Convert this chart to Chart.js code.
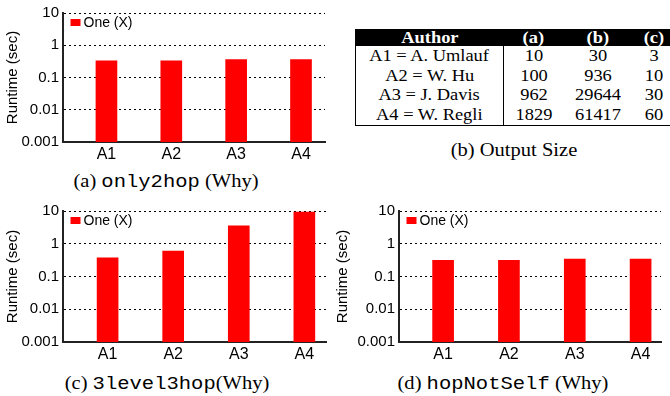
<!DOCTYPE html>
<html>
<head>
<meta charset="utf-8">
<script src="https://cdn.jsdelivr.net/npm/chart.js@4.4.0/dist/chart.umd.min.js"></script>
<style>
  body { margin: 0; width: 670px; height: 396px; overflow: hidden; background: #fff; position: relative; }
  canvas { position: absolute; }
  .cap { position: absolute; font-family: "Liberation Serif", serif; font-size: 18px; line-height: 20px;
         white-space: nowrap; transform: translateX(-50%) scaleX(1.14); color: #000; }
  .cap span { font-family: "Liberation Mono", monospace; }
  #tbl { position: absolute; left: 355px; top: 29px; width: 320px; border-collapse: collapse; table-layout: fixed;
         font-family: "Liberation Serif", serif; font-size: 16px; color: #000;
         border-left: 1.5px solid #000; border-bottom: 1.5px solid #000; }
  #tbl th { background: #000; color: #fff; font-weight: bold; height: 17px; line-height: 17px; padding: 0; text-align: center; }
  #tbl td { height: 19.7px; line-height: 19.7px; padding: 0; text-align: center; }
  #tbl td:first-child { border-right: 1.5px solid #000; }
  #tbl .sx { display: inline-block; transform: scaleX(1.15); white-space: nowrap; }
</style>
</head>
<body>
<canvas id="chartA" width="330" height="165" style="left:0;top:0"></canvas>
<canvas id="chartC" width="330" height="172" style="left:0;top:195px"></canvas>
<canvas id="chartD" width="340" height="172" style="left:330px;top:195px"></canvas>

<table id="tbl">
  <colgroup><col style="width:148px"><col style="width:60px"><col style="width:68px"><col style="width:44px"></colgroup>
  <thead><tr id="headRow"></tr></thead>
  <tbody id="tblBody"></tbody>
</table>

<div class="cap" style="left:166px;top:171px">(a) <span>only2hop</span> (Why)</div>
<div class="cap" style="left:514px;top:140px">(b) Output Size</div>
<div class="cap" style="left:167px;top:373px">(c) <span>3level3hop</span>(Why)</div>
<div class="cap" style="left:503px;top:373px">(d) <span>hopNotSelf</span> (Why)</div>

<script>
// runtimes per author
const authors = ['A1', 'A2', 'A3', 'A4'];
const only2hopRuntime = [0.33, 0.33, 0.36, 0.36];
const level3hopRuntime = [0.37, 0.60, 3.5, 9.3];
const hopNotSelfRuntime = [0.31, 0.31, 0.34, 0.34];
const yTicks = [0.001, 0.01, 0.1, 1, 10];
const seriesLabel = 'One (X)';

// output size table
const tableHeader = ['Author', '(a)', '(b)', '(c)'];
const authorNames = ['A1 = A. Umlauf', 'A2 = W. Hu', 'A3 = J. Davis', 'A4 = W. Regli'];
const sizeA = [10, 100, 962, 1829];
const sizeB = [30, 936, 29644, 61417];
const sizeC = [3, 10, 30, 60];

function cell(tag, text) {
  const el = document.createElement(tag);
  const s = document.createElement('span');
  s.className = 'sx';
  s.textContent = text;
  el.appendChild(s);
  return el;
}

const headRow = document.getElementById('headRow');
tableHeader.forEach(h => headRow.appendChild(cell('th', h)));
const body = document.getElementById('tblBody');
authorNames.forEach((name, i) => {
  const tr = document.createElement('tr');
  [name, sizeA[i], sizeB[i], sizeC[i]].forEach(v => tr.appendChild(cell('td', v)));
  body.appendChild(tr);
});

// legend drawn inside the plot area, top left
const insideLegend = {
  id: 'insideLegend',
  afterDatasetsDraw(chart, args, opts) {
    const { ctx, chartArea } = chart;
    const ds = chart.data.datasets[0];
    const x = chartArea.left + opts.dx;
    const y = chartArea.top + opts.dy;
    ctx.save();
    ctx.fillStyle = ds.backgroundColor;
    ctx.fillRect(x, y, 10, 7);
    ctx.fillStyle = '#000';
    ctx.font = '14px "Liberation Sans"';
    ctx.textBaseline = 'middle';
    ctx.fillText(ds.label, x + 13, y + 4);
    ctx.restore();
  }
};

function makeChart(id, values, box) {
  return new Chart(document.getElementById(id), {
    type: 'bar',
    data: {
      datasets: [{
        label: seriesLabel,
        data: values.map((v, i) => ({ x: i + 1, y: v })),
        backgroundColor: '#ff0000',
        barThickness: 21
      }]
    },
    options: {
      responsive: false,
      animation: false,
      devicePixelRatio: 1,
      layout: { padding: { top: box.top, right: box.right, left: 0, bottom: 0 } },
      plugins: {
        legend: { display: false },
        tooltip: { enabled: false },
        insideLegend: { dx: 7.5, dy: 6 }
      },
      scales: {
        x: {
          type: 'linear',
          offset: false,
          min: box.xMin,
          max: box.xMax,
          afterBuildTicks: s => { s.ticks = authors.map((a, i) => ({ value: i + 1 })); },
          afterFit: s => { s.height = box.xHeight; },
          grid: { drawOnChartArea: false, drawTicks: false },
          border: { display: true, color: '#222', width: 2 },
          ticks: {
            padding: 3,
            color: '#000',
            font: { family: 'Liberation Sans', size: 16 },
            callback: v => authors[Math.round(v) - 1]
          }
        },
        y: {
          type: 'logarithmic',
          min: 0.001,
          max: 10,
          afterBuildTicks: s => { s.ticks = yTicks.map(v => ({ value: v })); },
          afterFit: s => { s.width = box.yWidth; },
          grid: { color: '#000', lineWidth: 1, drawTicks: false },
          border: { display: true, color: '#222', width: 2, dash: [2, 3] },
          ticks: {
            padding: 4,
            color: '#000',
            font: { family: 'Liberation Sans', size: 15 },
            callback: v => String(v)
          },
          title: {
            display: true,
            text: 'Runtime (sec)',
            color: '#000',
            font: { family: 'Liberation Sans', size: 15 },
            padding: { top: 4, bottom: 0 }
          }
        }
      }
    },
    plugins: [insideLegend]
  });
}

makeChart('chartA', only2hopRuntime, { top: 12, right: 5, yWidth: 63, xHeight: 23, xMin: 0.33, xMax: 4.37 });
makeChart('chartC', level3hopRuntime, { top: 16, right: 4, yWidth: 63, xHeight: 25, xMin: 0.32, xMax: 4.33 });
makeChart('chartD', hopNotSelfRuntime, { top: 16, right: 9, yWidth: 69, xHeight: 25, xMin: 0.33, xMax: 4.31 });
</script>
</body>
</html>
